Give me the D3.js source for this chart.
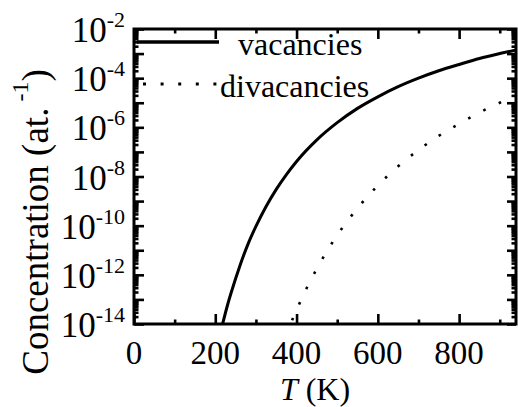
<!DOCTYPE html>
<html>
<head>
<meta charset="utf-8">
<script src="https://cdn.jsdelivr.net/npm/d3@7"></script>
<style>
  html, body { margin: 0; padding: 0; background: #fff; }
  svg { display: block; }
  text { font-family: "Liberation Serif", "Times New Roman", serif; fill: #000; }
</style>
</head>
<body>
<div id="chart"></div>
<script>
// Equilibrium defect concentrations versus temperature
const tempsVacancies = [218, 230, 240, 260, 280, 300, 325, 350, 375, 400, 450, 500, 550, 600, 650, 700, 750, 800, 850, 900, 940];
const vacancies = [1.0e-14, 5.8e-14, 2.1e-13, 2.2e-12, 1.7e-11, 9.3e-11, 6.0e-10, 3.0e-9, 1.2e-8, 4.1e-8, 3.1e-7, 1.55e-6, 5.9e-6, 1.74e-5, 4.5e-5, 1.0e-4, 2.0e-4, 3.6e-4, 6.3e-4, 1.0e-3, 1.4e-3];

const tempsDivacancies = [385, 400, 425, 450, 500, 550, 600, 650, 700, 750, 800, 850, 900, 940];
const divacancies = [1.0e-14, 3.7e-14, 2.9e-13, 1.8e-12, 4.1e-11, 5.1e-10, 4.3e-9, 2.6e-8, 1.2e-7, 4.5e-7, 1.4e-6, 4.0e-6, 1.0e-5, 1.9e-5];

const seriesNames = ["vacancies", "divacancies"];
const xMajorTicks = [0, 200, 400, 600, 800];
const xMinorTicks = [100, 300, 500, 700, 900];
const yLabelExponents = [-2, -4, -6, -8, -10, -12, -14];

const W = 518, H = 407;
const L = 134, R = 516, T = 29, B = 324;

const svg = d3.select("#chart").append("svg")
  .attr("width", W).attr("height", H);

const x = d3.scaleLinear().domain([0, 940]).range([L, R]);
const y = d3.scaleLog().domain([1e-14, 1e-2]).range([B, T]);

// decade and sub-decade tick values
const yMajor = d3.range(-14, -1).map(e => Math.pow(10, e));
const yMinor = [];
d3.range(-14, -2).forEach(e => {
  for (let m = 2; m <= 9; m++) yMinor.push(m * Math.pow(10, e));
});

function styleAxis(g) {
  g.select(".domain").remove();
  g.selectAll(".tick line").attr("stroke", "#000").attr("stroke-width", 2.6);
  g.selectAll(".tick text").remove();
}

// tick marks pointing into the plot on all four sides
svg.append("g").attr("transform", `translate(0,${B})`)
  .call(d3.axisBottom(x).tickValues(xMajorTicks).tickSize(-10).tickSizeOuter(0)).call(styleAxis);
svg.append("g").attr("transform", `translate(0,${B})`)
  .call(d3.axisBottom(x).tickValues(xMinorTicks).tickSize(-4.5).tickSizeOuter(0)).call(styleAxis);
svg.append("g").attr("transform", `translate(0,${T})`)
  .call(d3.axisTop(x).tickValues(xMajorTicks).tickSize(-10).tickSizeOuter(0)).call(styleAxis);
svg.append("g").attr("transform", `translate(0,${T})`)
  .call(d3.axisTop(x).tickValues(xMinorTicks).tickSize(-4.5).tickSizeOuter(0)).call(styleAxis);

svg.append("g").attr("transform", `translate(${L},0)`)
  .call(d3.axisLeft(y).tickValues(yMajor).tickSize(-10).tickSizeOuter(0)).call(styleAxis);
svg.append("g").attr("transform", `translate(${L},0)`)
  .call(d3.axisLeft(y).tickValues(yMinor).tickSize(-4.5).tickSizeOuter(0)).call(styleAxis);
svg.append("g").attr("transform", `translate(${R},0)`)
  .call(d3.axisRight(y).tickValues(yMajor).tickSize(-9).tickSizeOuter(0)).call(styleAxis);
svg.append("g").attr("transform", `translate(${R},0)`)
  .call(d3.axisRight(y).tickValues(yMinor).tickSize(-4.5).tickSizeOuter(0)).call(styleAxis);

// frame
svg.append("rect")
  .attr("x", L).attr("y", T).attr("width", R - L).attr("height", B - T)
  .attr("fill", "none").attr("stroke", "#000").attr("stroke-width", 3);

// x tick labels
svg.append("g").selectAll("text").data(xMajorTicks).join("text")
  .attr("x", d => x(d)).attr("y", 364)
  .attr("text-anchor", "middle").attr("font-size", 33)
  .text(d => d);

// y tick labels as powers of ten
const yLab = svg.append("g").selectAll("text").data(yLabelExponents).join("text")
  .attr("x", 125).attr("y", d => y(Math.pow(10, d)) + 13)
  .attr("text-anchor", "end").attr("font-size", 35);
yLab.append("tspan").text("10");
yLab.append("tspan").attr("font-size", 22).attr("dy", -15).text(d => String(d));

// axis titles
const xt = svg.append("text").attr("x", 315).attr("y", 400)
  .attr("text-anchor", "middle").attr("font-size", 32);
xt.append("tspan").attr("font-style", "italic").text("T");
xt.append("tspan").text(" (K)");

const yt = svg.append("text")
  .attr("transform", "translate(48,222) rotate(-90)")
  .attr("text-anchor", "middle").attr("font-size", 37);
yt.append("tspan").text("Concentration (at.");
yt.append("tspan").attr("font-size", 24).attr("dy", -20).text(" -1");
yt.append("tspan").attr("dy", 20).text(")");

// curves
svg.append("clipPath").attr("id", "plot-clip")
  .append("rect").attr("x", L).attr("y", T).attr("width", R - L).attr("height", B - T);

const line = d3.line()
  .x(d => x(d[0])).y(d => y(d[1]))
  .curve(d3.curveMonotoneX);

const plot = svg.append("g").attr("clip-path", "url(#plot-clip)");
plot.append("path")
  .datum(d3.zip(tempsVacancies, vacancies))
  .attr("d", line)
  .attr("fill", "none").attr("stroke", "#000").attr("stroke-width", 3);
plot.append("path")
  .datum(d3.zip(tempsDivacancies, divacancies))
  .attr("d", line)
  .attr("fill", "none").attr("stroke", "#000").attr("stroke-width", 2.6)
  .attr("stroke-dasharray", "2.6 14.5").attr("stroke-dashoffset", -4);

// legend
const legend = svg.append("g");
legend.append("line").attr("x1", 137).attr("x2", 219).attr("y1", 42).attr("y2", 42)
  .attr("stroke", "#000").attr("stroke-width", 3.5);
legend.append("text").attr("x", 238).attr("y", 55).attr("font-size", 32).text(seriesNames[0]);
legend.append("line").attr("x1", 143).attr("x2", 218).attr("y1", 84).attr("y2", 84)
  .attr("stroke", "#000").attr("stroke-width", 3)
  .attr("stroke-dasharray", "3 14.6");
legend.append("text").attr("x", 220).attr("y", 97).attr("font-size", 32).text(seriesNames[1]);
</script>
</body>
</html>
